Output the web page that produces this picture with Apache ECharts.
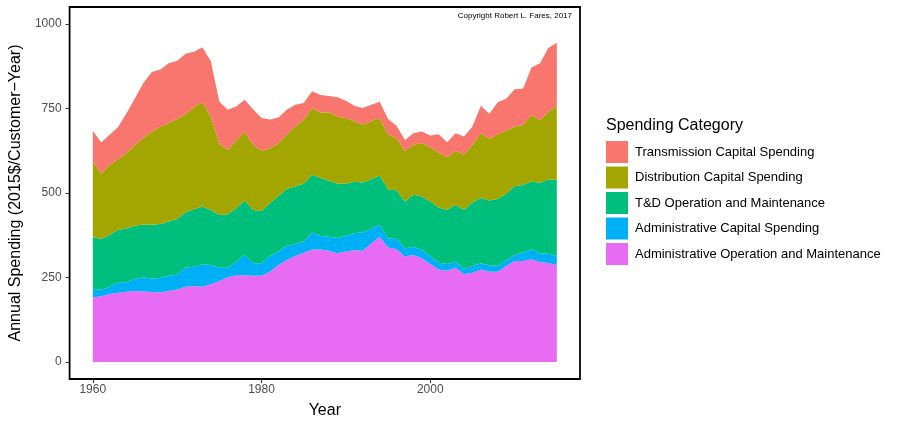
<!DOCTYPE html>
<html>
<head>
<meta charset="utf-8">
<script src="https://cdn.jsdelivr.net/npm/echarts@6/dist/echarts.min.js"></script>
<style>html,body{margin:0;padding:0;background:#fff;}#c{width:900px;height:424px;}</style>
</head>
<body>
<div id="c"></div>
<script>
const years = [1960,1961,1962,1963,1964,1965,1966,1967,1968,1969,1970,1971,1972,1973,1974,1975,1976,1977,1978,1979,1980,1981,1982,1983,1984,1985,1986,1987,1988,1989,1990,1991,1992,1993,1994,1995,1996,1997,1998,1999,2000,2001,2002,2003,2004,2005,2006,2007,2008,2009,2010,2011,2012,2013,2014,2015];

const adminOM = [191,195,201,205,208,210,209,207,206,210,215,223,225,223,230,240,251,257,257,
  255,255,267,287,302,314,323,333,333,329,322,327,331,329,351,371,339,334,312,
  317,307,290,274,270,279,260,264,274,267,267,284,299,299,304,296,293,287];
const adminCap = [26,19,22,31,28,36,41,40,43,45,43,57,57,66,57,39,28,40,60,
  37,37,47,39,42,35,34,50,40,42,45,46,50,55,43,35,26,33,24,
  24,25,24,20,20,18,15,20,18,19,18,18,18,25,30,26,27,27];
const tdOM = [153,150,153,155,159,157,157,159,159,161,165,163,170,171,163,156,158,158,161,
  158,155,156,165,168,170,170,171,171,165,160,154,152,147,147,146,145,141,139,
  154,158,161,163,160,168,175,188,193,192,197,196,203,200,200,208,220,225];
const distCap = [223,193,207,209,223,239,256,276,287,291,296,290,302,308,276,210,190,200,204,
  192,178,162,156,161,178,190,197,194,203,199,195,179,171,171,170,163,155,149,
  148,158,160,163,156,160,163,171,192,182,192,186,177,177,197,185,201,217];
const transCap = [91,92,89,95,118,138,162,176,170,177,172,179,164,163,163,125,119,101,94,
  106,97,85,76,73,64,49,50,52,48,57,51,46,49,49,48,46,36,33,
  34,34,35,54,44,52,54,54,81,74,94,95,110,108,140,169,188,188];

const categories = ['Transmission Capital Spending','Distribution Capital Spending','T&D Operation and Maintenance','Administrative Capital Spending','Administrative Operation and Maintenance'];
const xTicks = [1960,1980,2000];
const yTicks = [0,250,500,750,1000];

const colors = {
  'Transmission Capital Spending':'#F8766D',
  'Distribution Capital Spending':'#A3A500',
  'T&D Operation and Maintenance':'#00BF7D',
  'Administrative Capital Spending':'#00B0F6',
  'Administrative Operation and Maintenance':'#E76BF3'
};
const stackOrder = [
  ['Administrative Operation and Maintenance', adminOM],
  ['Administrative Capital Spending', adminCap],
  ['T&D Operation and Maintenance', tdOM],
  ['Distribution Capital Spending', distCap],
  ['Transmission Capital Spending', transCap]
];

const font = "'Liberation Sans', Arial, Helvetica, sans-serif";
const chart = echarts.init(document.getElementById('c'), null, {renderer:'canvas'});
chart.setOption({
  animation:false,
  backgroundColor:'#fff',
  textStyle:{fontFamily:font},
  grid:{left:68, top:7, width:512, height:372, show:true, borderColor:'#000', borderWidth:1.8, backgroundColor:'#fff'},
  xAxis:{
    type:'value', min:1957.25, max:2017.75,
    name:'Year', nameLocation:'middle', nameGap:24,
    nameTextStyle:{fontSize:16, color:'#000', fontFamily:font},
    axisLine:{show:false, onZero:false},
    axisTick:{show:true, length:4, lineStyle:{color:'#333'}, customValues:xTicks},
    axisLabel:{color:'#4d4d4d', fontSize:12, margin:5, fontFamily:font, customValues:xTicks,
      formatter: v => String(v)},
    splitLine:{show:false}
  },
  yAxis:{
    type:'value', min:-50, max:1050,
    name:'Annual Spending (2015$/Customer\u2212Year)', nameLocation:'middle', nameGap:45,
    nameTextStyle:{fontSize:16, color:'#000', fontFamily:font},
    axisLine:{show:false},
    axisTick:{show:true, length:4, lineStyle:{color:'#333'}, customValues:yTicks},
    axisLabel:{color:'#4d4d4d', fontSize:12, margin:8, fontFamily:font, customValues:yTicks,
      formatter: v => String(v)},
    splitLine:{show:false}
  },
  legend:{
    orient:'vertical', left:606, top:141, padding:0,
    itemWidth:22, itemHeight:22, itemGap:3.5, icon:'rect',
    data:categories,
    textStyle:{fontSize:13, color:'#000', fontFamily:font, padding:[0,0,0,2]}
  },
  graphic:[
    {type:'text', left:606, top:118, style:{text:'Spending Category', fontSize:16, fill:'#000', fontFamily:font}},
    {type:'text', right:328, top:12, style:{text:'Copyright Robert L. Fares, 2017', fontSize:8, fill:'#000', fontFamily:font}}
  ],
  // rows are [value, year]; encode maps them so that the stacked dimension is the value (y)
  series: stackOrder.map(([name, vals]) => ({
    name:name, type:'line', stack:'total', symbol:'none',
    data: years.map((y,i)=>[vals[i], y]),
    encode:{x:1, y:0},
    lineStyle:{width:0},
    itemStyle:{color:colors[name]},
    areaStyle:{color:colors[name], opacity:1}
  }))
});
</script>
</body>
</html>
